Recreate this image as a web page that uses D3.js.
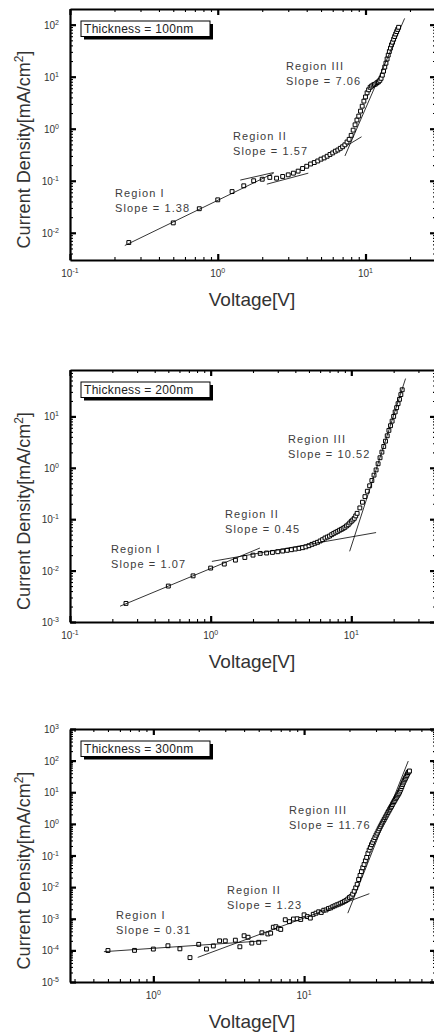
<!DOCTYPE html>
<html>
<head>
<meta charset="utf-8">
<script src="https://cdn.jsdelivr.net/npm/d3@7"></script>
<style>
  body { margin: 0; background: #fff; }
  svg { display: block; }
  text { font-family: "Liberation Sans", Arial, sans-serif; }
</style>
</head>
<body>
<svg width="434" height="1034"></svg>
<script>
// ---- data ----
// 100 nm
var v100 = [0.25,0.5,0.75,1,1.25,1.5,1.75,2,2.25,2.5,2.75,3,3.25,3.5,3.75,4,4.25,4.5,4.75,5,
            5.25,5.5,5.75,6,6.25,6.5,6.75,7,7.25,7.5,7.75,8,8.25,8.5,8.75,9,9.25,9.5,9.75,10,
            10.25,10.5,10.75,11,11.25,11.5,11.75,12,12.25,12.5,12.75,13,13.25,13.5,13.75,14,
            14.25,14.5,14.75,15,15.25,15.5,15.75,16,16.25,16.5,16.75];
var j100 = [0.0065,0.0155,0.029,0.043,0.062,0.080,0.10,0.107,0.116,0.112,0.121,0.130,0.140,0.153,0.172,0.19,0.21,0.224,0.24,0.26,
            0.275,0.296,0.32,0.343,0.37,0.39,0.42,0.45,0.49,0.556,0.625,0.746,0.94,1.19,1.47,1.75,2.18,2.71,3.39,4.08,
            4.9,5.6,6.25,6.6,6.9,7.1,7.3,7.7,8.0,8.5,9.3,10.7,12.8,15.3,18.2,21.9,
            26,30.5,35.4,40.9,45.9,52.5,59,66,73.5,81,89];
// fit lines [V1, J1, V2, J2]
var fit100 = [[0.235,0.0057,2.39,0.14],[1.42,0.103,2.39,0.144],[2.15,0.086,4.1,0.14],
              [7.45,0.47,9.4,0.70],[7.26,0.30,18.4,132]];
var slopes100 = ["1.38","1.57","7.06"];

// 200 nm
var v200 = [0.25,0.5,0.75,1,1.25,1.5,1.75,2,2.25,2.5,2.75,3,3.25,3.5,3.75,4,4.25,4.5,4.75,5,
            5.25,5.5,5.75,6,6.25,6.5,6.75,7,7.25,7.5,7.75,8,8.25,8.5,8.75,9,9.25,9.5,9.75,10,
            10.25,10.5,10.75,11,11.5,12,12.5,13,13.5,14,14.5,15,15.5,16,16.5,17,17.5,18,18.5,
            19,19.5,20,20.5,21,21.5,22,22.5,23];
var j200 = [0.0023,0.005,0.0079,0.0112,0.0134,0.016,0.018,0.020,0.0216,0.022,0.0226,0.0233,0.024,0.0248,0.0255,0.0263,0.0271,0.0279,0.029,0.0305,
            0.0324,0.034,0.0355,0.0377,0.04,0.043,0.045,0.047,0.050,0.053,0.0556,0.058,0.061,0.0635,0.0665,0.0695,0.074,0.078,0.0845,0.091,
            0.0967,0.104,0.116,0.130,0.166,0.214,0.275,0.35,0.447,0.566,0.72,0.91,1.2,1.57,2.02,2.6,3.3,4.2,5.35,
            6.6,8.1,10,12.2,14.8,17.7,21.5,26.6,33];
var fit200 = [[0.227,0.00203,2.24,0.0275],[1.02,0.0151,15.0,0.055],[9.73,0.0237,24.3,54.5]];
var slopes200 = ["1.07","0.45","10.52"];

// 300 nm
var v300 = [0.5,0.75,1,1.25,1.5,1.75,2,2.25,2.5,2.75,3,3.5,3.75,4,4.25,4.5,5,5.25,5.75,6,6.25,6.5,6.75,7,
            7.5,8,8.5,9,9.5,10,10.5,11,11.5,12,12.5,13,13.5,14,14.5,15,15.5,16,16.5,17,17.5,18,18.5,19,19.5,20,20.5,
            21,21.5,22,22.5,23,23.5,24,24.5,25,25.5,26,26.5,27,27.5,28,28.5,29,29.5,30,
            30.5,31,31.5,32,32.5,33,33.5,34,34.5,35,35.5,36,36.5,37,37.5,38,38.5,39,39.5,40,
            40.5,41,41.5,42,42.5,43,43.5,44,44.5,45,45.5,46,46.5,47,47.5,48,48.5,49,49.5,50];
var j300 = [9.9e-5,1.0e-4,1.1e-4,1.4e-4,1.12e-4,5.9e-5,1.55e-4,1.1e-4,1.38e-4,2.0e-4,2.0e-4,2.1e-4,1.3e-4,2.9e-4,2.6e-4,1.7e-4,1.8e-4,3.6e-4,3.3e-4,3.5e-4,5.4e-4,5.6e-4,5.0e-4,4.6e-4,
            9.3e-4,8.1e-4,9.8e-4,1.0e-3,9.5e-4,1.33e-3,1.17e-3,1.05e-3,1.38e-3,1.5e-3,1.66e-3,1.58e-3,1.86e-3,1.9e-3,2.1e-3,2.2e-3,2.4e-3,2.57e-3,2.75e-3,2.9e-3,3.1e-3,3.3e-3,3.55e-3,3.8e-3,4.2e-3,4.7e-3,5.1e-3,
            6.0e-3,7.4e-3,9.5e-3,0.0123,0.0174,0.0234,0.031,0.041,0.052,0.068,0.087,0.115,0.148,0.18,0.22,0.26,0.31,0.37,0.44,
            0.51,0.60,0.70,0.81,0.93,1.07,1.22,1.38,1.57,1.78,2.02,2.3,2.57,2.9,3.24,3.6,4.07,4.6,5.07,5.6,
            6.24,6.9,7.6,8.3,9.2,10.2,11.6,13.2,15.1,17.4,19.7,22.4,24.8,27.5,30.5,34,37.6,42,44,47];
var fit300 = [[0.47,9.1e-5,5.69,2.04e-4],[1.97,6.0e-5,27.1,6.2e-3],[19.5,1.5e-3,49.1,97]];
var slopes300 = ["0.31","1.23","11.76"];

var regionNames = ["Region I", "Region II", "Region III"];
var thickness = ["Thickness = 100nm", "Thickness = 200nm", "Thickness = 300nm"];

// major ticks
var xMajor100 = [0.1, 1, 10], yMajor100 = [0.01, 0.1, 1, 10, 100];
var xMajor200 = [0.1, 1, 10], yMajor200 = [0.001, 0.01, 0.1, 1, 10];
var xMajor300 = [1, 10], yMajor300 = [1e-5, 1e-4, 1e-3, 1e-2, 0.1, 1, 10, 100, 1000];

// ---- layout ----
var panels = [
  {id: 1, top: 9, bottom: 260, xDomain: [0.1, 30], yDomain: [0.003, 200],
   v: v100, j: j100, fits: fit100, slopes: slopes100, xMajor: xMajor100, yMajor: yMajor100,
   notes: [[115, 197], [233, 140], [286, 70]]},
  {id: 2, top: 370, bottom: 622, xDomain: [0.1, 40], yDomain: [0.001, 80],
   v: v200, j: j200, fits: fit200, slopes: slopes200, xMajor: xMajor200, yMajor: yMajor200,
   notes: [[111, 553], [225, 518], [288, 443]]},
  {id: 3, top: 729, bottom: 982, xDomain: [0.28, 75], yDomain: [1e-5, 1000],
   v: v300, j: j300, fits: fit300, slopes: slopes300, xMajor: xMajor300, yMajor: yMajor300,
   notes: [[116, 919], [227, 894], [289, 814]]}
];
var LEFT = 70, RIGHT = 436;
var ink = "#333";

var svg = d3.select("svg");

function logMinors(dom) {
  var out = [];
  for (var e = Math.floor(Math.log10(dom[0])); e <= Math.ceil(Math.log10(dom[1])); e++) {
    for (var m = 2; m <= 9; m++) {
      var v = m * Math.pow(10, e);
      if (v > dom[0] && v < dom[1]) out.push(v);
    }
  }
  return out;
}

function powLabel(sel, v) {
  sel.append("tspan").text("10");
  sel.append("tspan").attr("dy", -4).attr("font-size", 7).text(Math.round(Math.log10(v)));
}

panels.forEach(function(p, pi) {
  var x = d3.scaleLog().domain(p.xDomain).range([LEFT, RIGHT]);
  var y = d3.scaleLog().domain(p.yDomain).range([p.bottom, p.top]);
  var g = svg.append("g");

  svg.append("clipPath").attr("id", "clip" + p.id)
    .append("rect").attr("x", LEFT).attr("y", p.top)
    .attr("width", RIGHT - LEFT).attr("height", p.bottom - p.top);

  // axes, ticks inward on all four sides
  var minX = logMinors(p.xDomain), minY = logMinors(p.yDomain);
  var axes = [
    [d3.axisBottom, x, "translate(0," + p.bottom + ")", p.xMajor, minX],
    [d3.axisTop, x, "translate(0," + p.top + ")", p.xMajor, minX],
    [d3.axisLeft, y, "translate(" + LEFT + ",0)", p.yMajor, minY],
    [d3.axisRight, y, "translate(" + RIGHT + ",0)", p.yMajor, minY]
  ];
  axes.forEach(function(a) {
    g.append("g").attr("transform", a[2])
      .call(a[0](a[1]).tickValues(a[4]).tickSizeInner(-3).tickSizeOuter(0).tickFormat(""))
      .call(function(s) { s.select(".domain").remove(); s.selectAll("line").attr("stroke-width", 1.1); });
    g.append("g").attr("transform", a[2])
      .call(a[0](a[1]).tickValues(a[3]).tickSizeInner(-6).tickSizeOuter(0).tickFormat(""))
      .call(function(s) {
        s.select(".domain").attr("stroke-width", 2.2);
        s.selectAll("line").attr("stroke-width", 2.2);
      });
  });

  // tick labels
  g.selectAll(".xl").data(p.xMajor).enter().append("text")
    .attr("x", function(d) { return x(d); }).attr("y", p.bottom + 17)
    .attr("text-anchor", "middle").attr("font-size", 10).attr("fill", ink)
    .each(function(d) { powLabel(d3.select(this), d); });
  g.selectAll(".yl").data(p.yMajor).enter().append("text")
    .attr("x", LEFT - 11).attr("y", function(d) { return y(d) + 4; })
    .attr("text-anchor", "end").attr("font-size", 10).attr("fill", ink)
    .each(function(d) { powLabel(d3.select(this), d); });

  // fit lines and data
  var plot = g.append("g").attr("clip-path", "url(#clip" + p.id + ")");
  var pts = p.v.map(function(v, i) { return [v, p.j[i]]; });
  plot.selectAll(".pt").data(pts).enter().append("path")
    .attr("d", d3.symbol(d3.symbolSquare, 15))
    .attr("transform", function(d) { return "translate(" + x(d[0]) + "," + y(d[1]) + ")"; })
    .attr("fill", "#fff").attr("stroke", "#000").attr("stroke-width", 1);
  plot.selectAll(".fit").data(p.fits).enter().append("line")
    .attr("x1", function(d) { return x(d[0]); }).attr("y1", function(d) { return y(d[1]); })
    .attr("x2", function(d) { return x(d[2]); }).attr("y2", function(d) { return y(d[3]); })
    .attr("stroke", "#000").attr("stroke-width", 0.8);

  // region notes
  p.notes.forEach(function(n, i) {
    var t = g.append("text").attr("font-size", 11).attr("fill", "#3c3c3c")
      .attr("letter-spacing", 1.1);
    t.append("tspan").attr("x", n[0]).attr("y", n[1]).text(regionNames[i]);
    t.append("tspan").attr("x", n[0]).attr("y", n[1] + 15).text("Slope = " + p.slopes[i]);
  });

  // thickness box
  var bx = LEFT + 11, by = p.top + 12;
  g.append("rect").attr("x", bx + 3).attr("y", by + 3).attr("width", 129).attr("height", 15.5).attr("fill", "#000");
  g.append("rect").attr("x", bx).attr("y", by).attr("width", 129).attr("height", 15.5)
    .attr("fill", "#fff").attr("stroke", "#000").attr("stroke-width", 1);
  g.append("text").attr("x", bx + 3).attr("y", by + 12).attr("font-size", 12)
    .attr("letter-spacing", 0.3).attr("fill", "#222").text(thickness[pi]);

  // axis titles
  g.append("text").attr("x", 252).attr("y", p.bottom + 46).attr("text-anchor", "middle")
    .attr("font-size", 19).attr("fill", ink).text("Voltage[V]");
  var yt = g.append("text").attr("text-anchor", "middle").attr("font-size", 18).attr("fill", ink)
    .attr("transform", "translate(30," + ((p.top + p.bottom) / 2 + 15) + ") rotate(-90)");
  yt.append("tspan").text("Current Density[mA/cm");
  yt.append("tspan").attr("dy", -7).attr("font-size", 12).text("2");
  yt.append("tspan").attr("dy", 7).text("]");
});
</script>
</body>
</html>
